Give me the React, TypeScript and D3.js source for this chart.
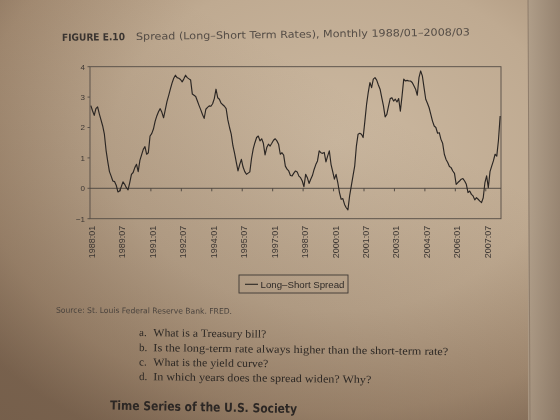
import React from "react";
import * as d3 from "d3";

const W = 560;
const H = 420;

// Monthly long–short spread (percentage points), 1988/01 – 2008/03
const spread: number[] = [
  // 1988
  2.72, 2.55, 2.40, 2.62, 2.68, 2.45, 2.25, 2.05, 1.78, 1.25, 0.88, 0.55,
  // 1989
  0.40, 0.24, 0.22, 0.10, -0.12, -0.09, 0.05, 0.21, 0.13, 0.02, -0.05, 0.19,
  // 1990
  0.46, 0.52, 0.68, 0.79, 0.55, 0.92, 1.10, 1.28, 1.37, 1.12, 1.17, 1.72,
  // 1991
  1.80, 1.95, 2.20, 2.38, 2.52, 2.62, 2.50, 2.32, 2.58, 2.85, 3.05, 3.26,
  // 1992
  3.46, 3.62, 3.72, 3.64, 3.62, 3.58, 3.50, 3.60, 3.72, 3.64, 3.60, 3.56,
  // 1993
  3.10, 3.06, 3.02, 2.87, 2.72, 2.58, 2.43, 2.30, 2.60, 2.66, 2.71, 2.70,
  // 1994
  2.78, 2.95, 3.26, 2.98, 2.93, 2.80, 2.75, 2.70, 2.62, 2.25, 2.00, 1.78,
  // 1995
  1.40, 1.15, 0.85, 0.57, 0.78, 0.95, 0.70, 0.55, 0.46, 0.50, 0.54, 0.98,
  // 1996
  1.30, 1.50, 1.67, 1.72, 1.56, 1.63, 1.48, 1.10, 1.34, 1.45, 1.39, 1.48,
  // 1997
  1.58, 1.63, 1.56, 1.45, 1.12, 1.17, 1.09, 0.73, 0.63, 0.57, 0.42, 0.41,
  // 1998
  0.50, 0.57, 0.54, 0.40, 0.35, 0.24, 0.05, 0.46, 0.35, 0.16, 0.30, 0.42,
  // 1999
  0.62, 0.78, 0.90, 1.23, 1.17, 1.15, 1.18, 0.87, 1.06, 1.23, 0.79, 0.55,
  // 2000
  0.30, 0.46, 0.19, -0.14, -0.36, -0.34, -0.53, -0.64, -0.71, -0.25, 0.08, 0.41,
  // 2001
  0.73, 1.39, 1.78, 1.81, 1.78, 1.67, 2.20, 2.75, 3.15, 3.48, 3.31, 3.59,
  // 2002
  3.64, 3.56, 3.40, 3.26, 2.98, 2.71, 2.35, 2.43, 2.70, 2.95, 2.98, 2.87,
  // 2003
  2.93, 2.84, 2.95, 2.54, 3.04, 3.59, 3.53, 3.55, 3.53, 3.53, 3.48, 3.37,
  // 2004
  3.26, 3.06, 3.64, 3.86, 3.70, 3.31, 2.93, 2.80, 2.65, 2.43, 2.21, 2.05,
  // 2005
  2.00, 1.81, 1.83, 1.61, 1.48, 1.12, 0.95, 0.85, 0.72, 0.68, 0.57, 0.49,
  // 2006
  0.13, 0.19, 0.24, 0.30, 0.32, 0.24, 0.13, -0.14, -0.09, -0.20, -0.25, -0.38,
  // 2007
  -0.31, -0.36, -0.42, -0.47, -0.31, 0.19, 0.41, 0.02, 0.55, 0.73, 0.90, 1.12,
  // 2008
  1.06, 1.58, 2.38,
];

// Category labels shown every 18 months
const tickLabels: string[] = [
  "1988:01", "1989:07", "1991:01", "1992:07", "1994:01", "1995:07", "1997:01",
  "1998:07", "2000:01", "2001:07", "2003:01", "2004:07", "2006:01", "2007:07",
];
const tickStep = 18;

const yTicks: number[] = [-1, 0, 1, 2, 3, 4];

const seriesName = "Long\u2013Short Spread";
const figureNo = "FIGURE E.10";
const figureTitle = "Spread (Long\u2013Short Term Rates), Monthly 1988/01\u20132008/03";
const sourceNote = "Source: St. Louis Federal Reserve Bank. FRED.";
const questionLetters: string[] = ["a.", "b.", "c.", "d."];
const questions: string[] = [
  "What is a Treasury bill?",
  "Is the long-term rate always higher than the short-term rate?",
  "What is the yield curve?",
  "In which years does the spread widen? Why?",
];
const runningHead = "Time Series of the U.S. Society";

const plot = { left: 90, right: 501, top: 66.7, bottom: 218.7 };

const sans = "'DejaVu Sans', 'Noto Sans', sans-serif";
const arial = "'Liberation Sans', Arial, sans-serif";
const serif = "'Liberation Serif', 'Times New Roman', serif";

export default function App() {
  const x = d3
    .scaleLinear()
    .domain([-0.5, spread.length - 0.5])
    .range([plot.left, plot.right]);
  const y = d3.scaleLinear().domain([-1, 4]).range([plot.bottom, plot.top]);

  const path = d3
    .line<number>()
    .x((_, i) => x(i))
    .y((d) => y(d))(spread) as string;

  const tickIdx = tickLabels.map((_, k) => k * tickStep);
  const qWidths = [113, 295, 115, 218];
  const qBase = [336, 351, 365.5, 380];

  return (
    <svg
      width={W}
      height={H}
      viewBox={`0 0 ${W} ${H}`}
      style={{ position: "fixed", left: 0, top: 0, display: "block" }}
    >
      <defs>
        <radialGradient id="paper" cx="0.6" cy="0.34" r="0.8">
          <stop offset="0" stopColor="#cbb8a0" />
          <stop offset="0.5" stopColor="#bfaa91" />
          <stop offset="0.8" stopColor="#a58d74" />
          <stop offset="1" stopColor="#836c57" />
        </radialGradient>
        <linearGradient id="edge" x1="0" x2="1" y1="0" y2="0">
          <stop offset="0" stopColor="#ad9c88" />
          <stop offset="1" stopColor="#8e7c6a" />
        </linearGradient>
        <linearGradient id="shade" x1="0" x2="0.6" y1="1" y2="0.2">
          <stop offset="0" stopColor="#5e4836" stopOpacity={0.35} />
          <stop offset="1" stopColor="#5e4836" stopOpacity={0} />
        </linearGradient>
      </defs>

      {/* page */}
      <rect x={0} y={0} width={W} height={H} fill="url(#paper)" />
      <rect x={0} y={0} width={W} height={H} fill="url(#shade)" />
      <rect x={528} y={0} width={32} height={H} fill="url(#edge)" opacity={0.8} />
      <line x1={528} y1={0} x2={530} y2={H} stroke="#857463" strokeWidth={0.8} />

      {/* figure heading */}
      <g transform="rotate(-0.8 62 41)">
        <text
          x={62}
          y={41}
          fontFamily={sans}
          fontWeight="bold"
          fontSize={10}
          fill="#3a3430"
          textLength={63}
          lengthAdjust="spacingAndGlyphs"
        >
          {figureNo}
        </text>
        <text
          x={136}
          y={41}
          fontFamily={sans}
          fontSize={10}
          fill="#554d46"
          textLength={334}
          lengthAdjust="spacingAndGlyphs"
        >
          {figureTitle}
        </text>
      </g>

      {/* plot frame */}
      <rect
        x={plot.left}
        y={plot.top}
        width={plot.right - plot.left}
        height={plot.bottom - plot.top}
        fill="none"
        stroke="#544c45"
        strokeWidth={0.9}
      />

      {/* y axis ticks and labels */}
      {yTicks.map((t) => (
        <g key={t}>
          <line
            x1={plot.left - 2.5}
            x2={plot.left}
            y1={y(t)}
            y2={y(t)}
            stroke="#544c45"
            strokeWidth={0.9}
          />
          <text
            x={plot.left - 5}
            y={y(t)}
            dy="0.35em"
            textAnchor="end"
            fontFamily={arial}
            fontSize={8}
            fill="#3d3733"
          >
            {t < 0 ? `\u2212${Math.abs(t)}` : t}
          </text>
        </g>
      ))}

      {/* zero line with category ticks */}
      <line
        x1={plot.left}
        x2={plot.right}
        y1={y(0)}
        y2={y(0)}
        stroke="#4a433d"
        strokeWidth={0.9}
      />
      {tickIdx.slice(1).map((i) => (
        <line
          key={i}
          x1={x(i - 0.5)}
          x2={x(i - 0.5)}
          y1={y(0)}
          y2={y(0) + 3}
          stroke="#4a433d"
          strokeWidth={0.9}
        />
      ))}

      {/* series */}
      <path d={path} fill="none" stroke="#2b2623" strokeWidth={1.15} strokeLinejoin="round" />

      {/* category labels */}
      {tickIdx.map((i, k) => (
        <text
          key={i}
          transform={`translate(${x(i) + 4.2},${plot.bottom + 7}) rotate(-90)`}
          textAnchor="end"
          fontFamily={arial}
          fontSize={9}
          fill="#3d3733"
        >
          {tickLabels[k]}
        </text>
      ))}

      {/* legend */}
      <g>
        <rect x={239} y={275} width={109} height={18} fill="none" stroke="#3f3934" strokeWidth={0.9} />
        <line x1={245} x2={258} y1={284.3} y2={284.3} stroke="#2b2623" strokeWidth={1.1} />
        <text
          x={260.5}
          y={287.6}
          fontFamily={arial}
          fontSize={9.5}
          fill="#2f2a27"
          textLength={84}
          lengthAdjust="spacingAndGlyphs"
        >
          {seriesName}
        </text>
      </g>

      {/* source */}
      <text
        x={56}
        y={312.7}
        transform="rotate(0.4 56 312.7)"
        fontFamily={sans}
        fontSize={7.8}
        fill="#4a433d"
        textLength={176}
        lengthAdjust="spacingAndGlyphs"
      >
        {sourceNote}
      </text>

      {/* exercises */}
      {questions.map((q, k) => (
        <g key={k} transform={`rotate(0.75 139 ${qBase[k]})`}>
          <text x={139} y={qBase[k]} fontFamily={serif} fontSize={11} fill="#2e2925">
            {questionLetters[k]}
          </text>
          <text
            x={153.3}
            y={qBase[k]}
            fontFamily={serif}
            fontSize={11}
            fill="#2e2925"
            textLength={qWidths[k]}
            lengthAdjust="spacingAndGlyphs"
          >
            {q}
          </text>
        </g>
      ))}

      {/* running head */}
      <text
        x={110}
        y={409.5}
        transform="rotate(1.1 110 409.5)"
        fontFamily={sans}
        fontWeight="bold"
        fontSize={12.5}
        fill="#2c2724"
        textLength={187}
        lengthAdjust="spacingAndGlyphs"
      >
        {runningHead}
      </text>
    </svg>
  );
}
